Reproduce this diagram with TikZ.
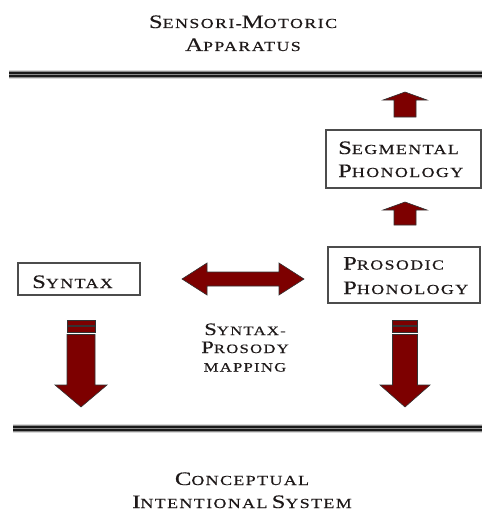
\documentclass[tikz,border=0pt]{standalone}
\usepackage{fontspec}
\newfontfamily\scfont[LetterSpace=10,FakeStretch=1.3,FakeBold=0.4]{Liberation Serif}
\definecolor{maroon}{RGB}{125,0,0}
\definecolor{txt}{RGB}{30,25,25}
\newcommand\ucX[1]{{\fontsize{19}{22}\selectfont #1}}
\newcommand\lcX[1]{{\fontsize{13.8}{22}\selectfont #1}}
\newcommand\mucX[1]{{\fontsize{17.5}{20}\selectfont #1}}
\newcommand\mlcX[1]{{\fontsize{12.8}{20}\selectfont #1}}
\begin{document}
\begin{tikzpicture}[x=1pt,y=-1pt,
  lbl/.style={text=txt,font=\scfont,inner sep=0pt,anchor=base},
  boxtxt/.style={text=txt,font=\scfont,inner sep=0pt,anchor=base west},
  frame/.style={draw=black!70,line width=1.1pt},
  arr/.style={fill=maroon,draw=black!80,line width=0.6pt,line join=miter}]
\useasboundingbox (0,0) rectangle (482,511);
% top & bottom double rules
\foreach \yy/\xx in {74.5/9,428.5/13}{
  \fill[black!45] (\xx,\yy-4.5) rectangle (482,\yy+4.5);
  \fill[black!15] (\xx,\yy-4.5) rectangle (482,\yy-3.5);
  \fill[black!15] (\xx,\yy+3.5) rectangle (482,\yy+4.5);
  \fill[black!90] (\xx,\yy-2.2) rectangle (482,\yy-0.9);
  \fill[black!90] (\xx,\yy+0.9) rectangle (482,\yy+2.2);
}
% titles
\node[lbl] (smA) at (243,28) {\ucX{S}\lcX{ENSORI-}\ucX{M}\lcX{OTORIC}};
\node[lbl] (smB) at (243,51) {\ucX{A}\lcX{PPARATUS}};
\node[lbl] (ciA) at (242,485) {\ucX{C}\lcX{ONCEPTUAL}};
\node[lbl] (ciB) at (242,508) {\ucX{I}\lcX{NTENTIONAL} \ucX{S}\lcX{YSTEM}};
% boxes
\draw[frame] (326,130) rectangle (481,188);
\node[boxtxt] (segA) at (338,154) {\ucX{S}\lcX{EGMENTAL}};
\node[boxtxt] (segB) at (338,177) {\ucX{P}\lcX{HONOLOGY}};
\draw[frame] (328,247) rectangle (480,303);
\node[boxtxt] (prosA) at (343,269.5) {\ucX{P}\lcX{ROSODIC}};
\node[boxtxt] (prosB) at (343,294) {\ucX{P}\lcX{HONOLOGY}};
\draw[frame] (18,263) rectangle (140,295);
\node[boxtxt] (syn) at (32,288) {\ucX{S}\lcX{YNTAX}};
% mapping label
\node[lbl] (mapA) at (245,335) {\mucX{S}\mlcX{YNTAX-}};
\node[lbl] (mapB) at (245,353) {\mucX{P}\mlcX{ROSODY}};
\node[lbl] (mapC) at (245,371.5) {\mlcX{MAPPING}};
% up arrows
\foreach \ty/\by in {92/117,202/225}{
  \draw[arr] (405,\ty) -- (427,\ty+8) -- (416,\ty+8) -- (416,\by) -- (394,\by) -- (394,\ty+8) -- (383,\ty+8) -- cycle;
}
% double arrow
\draw[arr] (182,279) -- (207,263) -- (207,272) -- (279,272) -- (279,263) -- (304,279) -- (279,295) -- (279,286) -- (207,286) -- (207,295) -- cycle;
% down arrows
\foreach \cx/\sh/\hh in {81/14/26,405/12.5/25}{
  \draw[arr] (\cx-\sh,320.7) rectangle (\cx+\sh,325);
  \draw[arr] (\cx-\sh,326.7) rectangle (\cx+\sh,332.7);
  \draw[arr] (\cx-\sh,334.5) -- (\cx+\sh,334.5) -- (\cx+\sh,385) -- (\cx+\hh,385) -- (\cx,407) -- (\cx-\hh,385) -- (\cx-\sh,385) -- cycle;
}
\end{tikzpicture}
\end{document}
